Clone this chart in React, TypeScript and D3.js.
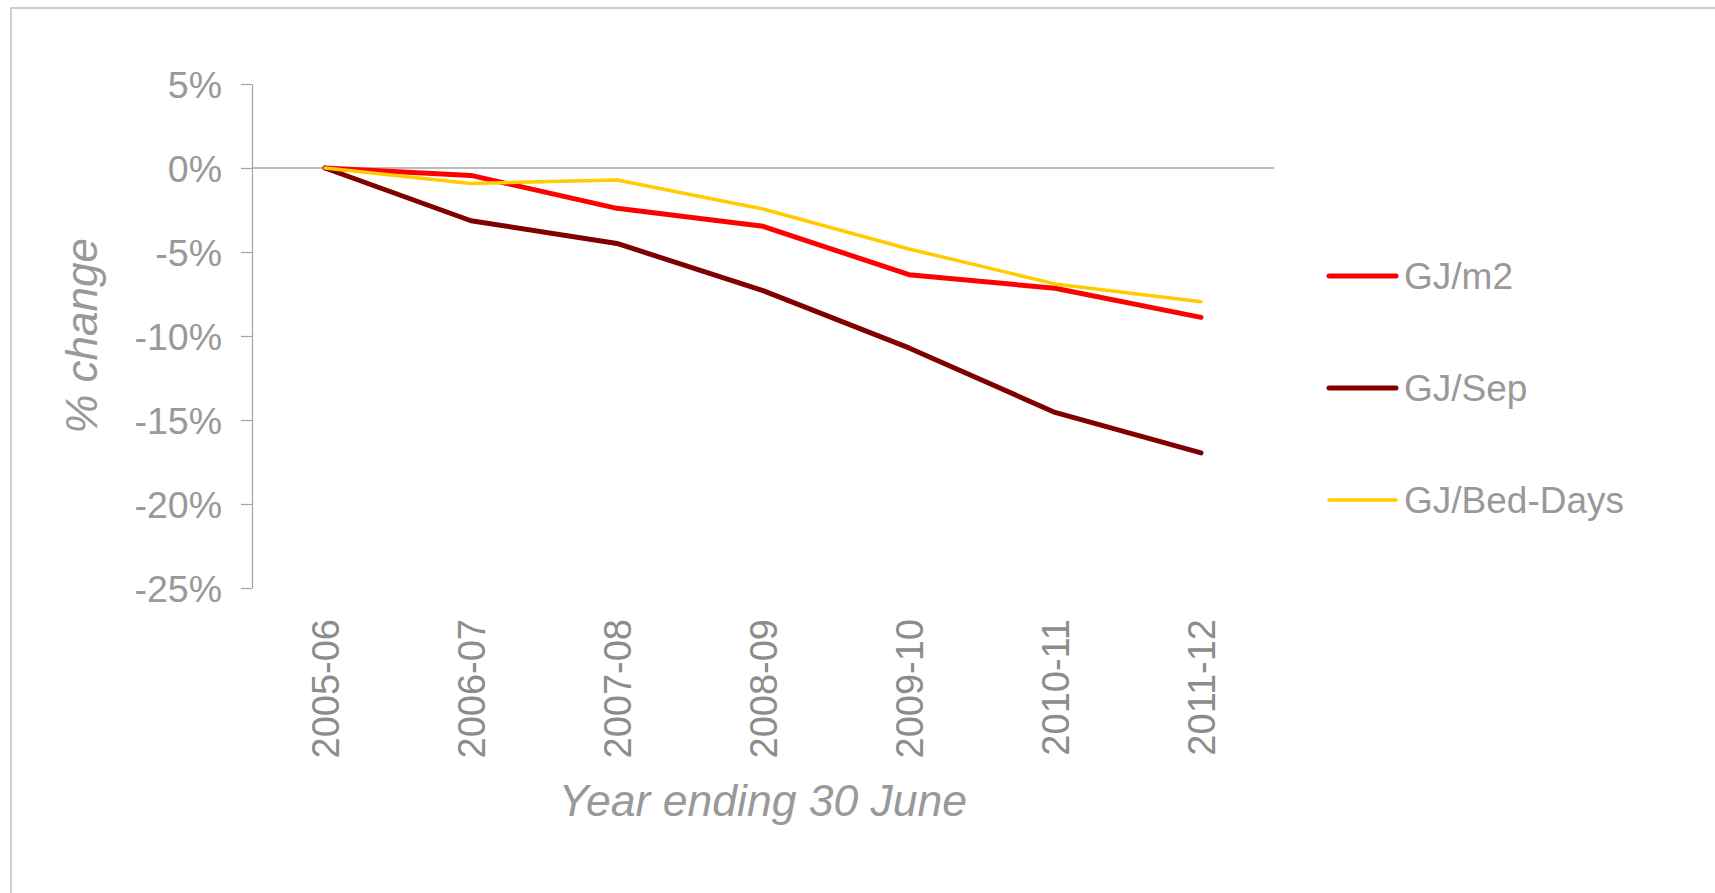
import { useEffect, useRef } from "react";
import * as d3 from "d3";

const years = ["2005-06", "2006-07", "2007-08", "2008-09", "2009-10", "2010-11", "2011-12"];
const gjPerM2 = [0, -0.44, -2.4, -3.47, -6.35, -7.16, -8.89];
const gjPerSep = [0, -3.14, -4.49, -7.3, -10.71, -14.55, -16.96];
const gjPerBedDays = [0, -0.92, -0.71, -2.44, -4.82, -6.9, -7.96];
const yTicks = [5, 0, -5, -10, -15, -20, -25];

type Series = { name: string; values: number[]; color: string; width: number };

const series: Series[] = [
  { name: "GJ/m2", values: gjPerM2, color: "#ff0000", width: 5 },
  { name: "GJ/Sep", values: gjPerSep, color: "#800000", width: 5 },
  { name: "GJ/Bed-Days", values: gjPerBedDays, color: "#ffcc00", width: 3.5 },
];

const FONT = "'Liberation Sans', Arial, sans-serif";
const TEXT = "#999999";
const AXIS = "#a6a6a6";

export default function App() {
  const svgRef = useRef<SVGSVGElement | null>(null);

  useEffect(() => {
    const W = 1715;
    const H = 893;
    const svg = d3.select(svgRef.current);
    svg.selectAll("*").remove();
    svg.attr("viewBox", `0 0 ${W} ${H}`);

    svg
      .append("rect")
      .attr("x", 11)
      .attr("y", 8)
      .attr("width", W + 20)
      .attr("height", H + 20)
      .attr("fill", "#fff")
      .attr("stroke", "#bfbfbf")
      .attr("stroke-width", 1.5);

    const left = 252;
    const right = 1274;
    const top = 84;
    const bottom = 588;

    const x = d3.scalePoint<string>().domain(years).range([left, right]).padding(0.5);
    const y = d3.scaleLinear().domain([-25, 5]).range([bottom, top]);

    // y axis
    const yAxis = svg
      .append("g")
      .attr("transform", `translate(${left},0)`)
      .call(
        d3
          .axisLeft(y)
          .tickValues(yTicks)
          .tickSize(11)
          .tickPadding(19)
          .tickSizeOuter(0)
          .tickFormat((d) => `${d}%`),
      );
    yAxis.select(".domain").attr("stroke", AXIS).attr("stroke-width", 1.25);
    yAxis.selectAll(".tick line").attr("stroke", AXIS).attr("stroke-width", 1.25);
    yAxis
      .selectAll(".tick text")
      .attr("fill", TEXT)
      .attr("font-family", FONT)
      .attr("font-size", 37.5)
      .attr("dy", "0.36em");

    // zero line / x axis
    svg
      .append("line")
      .attr("x1", left)
      .attr("x2", right)
      .attr("y1", y(0))
      .attr("y2", y(0))
      .attr("stroke", AXIS)
      .attr("stroke-width", 1.6);

    // x labels
    svg
      .append("g")
      .selectAll("text")
      .data(years)
      .join("text")
      .attr("transform", (d) => `translate(${(x(d) ?? 0) + 13.5},619) rotate(-90)`)
      .attr("text-anchor", "end")
      .attr("fill", "#8c8c8c")
      .attr("font-family", FONT)
      .attr("font-size", 38)
      .text((d) => d);

    // axis titles
    svg
      .append("text")
      .attr("x", (left + right) / 2)
      .attr("y", 816)
      .attr("text-anchor", "middle")
      .attr("fill", TEXT)
      .attr("font-family", FONT)
      .attr("font-style", "italic")
      .attr("font-size", 44.5)
      .text("Year ending 30 June");

    svg
      .append("text")
      .attr("transform", `translate(97,${(top + bottom) / 2}) rotate(-90)`)
      .attr("text-anchor", "middle")
      .attr("fill", TEXT)
      .attr("font-family", FONT)
      .attr("font-style", "italic")
      .attr("font-size", 44)
      .text("% change");

    // lines
    const line = d3
      .line<number>()
      .x((_, i) => x(years[i]) ?? 0)
      .y((v) => y(v));

    svg
      .append("g")
      .selectAll("path")
      .data(series)
      .join("path")
      .attr("d", (s) => line(s.values))
      .attr("fill", "none")
      .attr("stroke", (s) => s.color)
      .attr("stroke-width", (s) => s.width)
      .attr("stroke-linecap", "round")
      .attr("stroke-linejoin", "round");

    // legend
    const legend = svg
      .append("g")
      .selectAll("g")
      .data(series)
      .join("g")
      .attr("transform", (_, i) => `translate(1329,${276 + i * 112})`);
    legend
      .append("line")
      .attr("x1", 0)
      .attr("x2", 67)
      .attr("stroke", (s) => s.color)
      .attr("stroke-width", (s) => s.width)
      .attr("stroke-linecap", "round");
    legend
      .append("text")
      .attr("x", 75)
      .attr("y", 13)
      .attr("fill", TEXT)
      .attr("font-family", FONT)
      .attr("font-size", 37)
      .text((s) => s.name);
  }, []);

  return (
    <svg
      ref={svgRef}
      width={1715}
      height={893}
      style={{ position: "absolute", left: 0, top: 0, display: "block" }}
    />
  );
}
